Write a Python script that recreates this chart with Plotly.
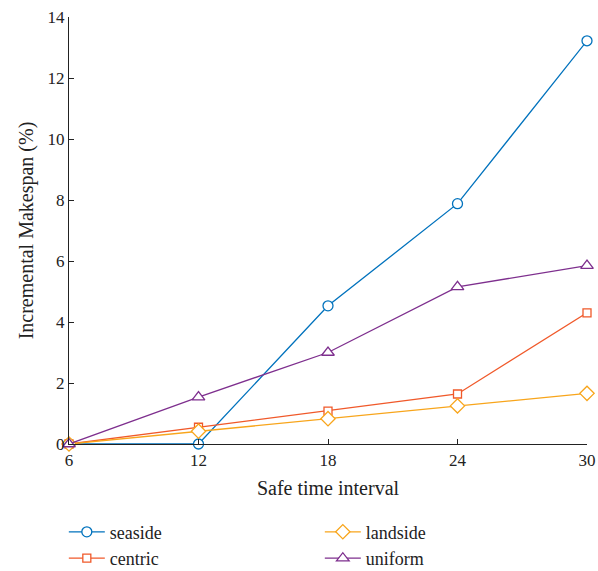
import plotly.graph_objects as go

x_vals = [6, 12, 18, 24, 30]
seaside = [0, 0, 4.53, 7.88, 13.22]
centric = [0, 0.55, 1.08, 1.64, 4.3]
landside = [0, 0.42, 0.83, 1.25, 1.66]
uniform = [0, 1.54, 3.0, 5.15, 5.85]

series = [
    ("seaside", seaside, "#0072BD", "circle", 10, 1),
    ("centric", centric, "#F0592A", "square", 8, 3),
    ("landside", landside, "#F8A51B", "diamond", 11, 2),
    ("uniform", uniform, "#7E2F8E", "triangle-up", 11, 4),
]

font_family = "Liberation Serif"
fig = go.Figure()
for name, vals, color, sym, size, rank in series:
    fig.add_trace(go.Scatter(
        x=x_vals, y=vals, name=name, mode="lines+markers",
        line=dict(color=color, width=1.3),
        marker=dict(symbol=sym, size=size, color="white",
                    line=dict(color=color, width=1.3)),
        legendrank=rank, cliponaxis=False,
    ))

fig.update_layout(
    width=598, height=571,
    margin=dict(l=69, r=11, t=17, b=127, autoexpand=False),
    paper_bgcolor="white", plot_bgcolor="white",
    font=dict(family=font_family, size=17, color="#222"),
    showlegend=True,
    legend=dict(orientation="h", x=-0.01, y=-0.163, xanchor="left", yanchor="top",
                entrywidth=205, entrywidthmode="pixels",
                font=dict(size=18, family=font_family), itemwidth=36,
                tracegroupgap=0),
)
fig.update_xaxes(
    range=[6, 30], tickvals=x_vals, ticktext=[str(v) for v in x_vals],
    showline=True, linecolor="#222", linewidth=1.2,
    ticks="inside", ticklen=5, tickcolor="#222",
    showgrid=False, zeroline=False,
    title=dict(text="Safe time interval", standoff=12),
)
fig.update_yaxes(
    range=[0, 14], tickvals=[0, 2, 4, 6, 8, 10, 12, 14],
    showline=True, linecolor="#222", linewidth=1.2,
    ticks="inside", ticklen=5, tickcolor="#222",
    showgrid=False, zeroline=False,
    title=dict(text="Incremental Makespan (%)", standoff=8),
)
fig.write_html("out.html")
